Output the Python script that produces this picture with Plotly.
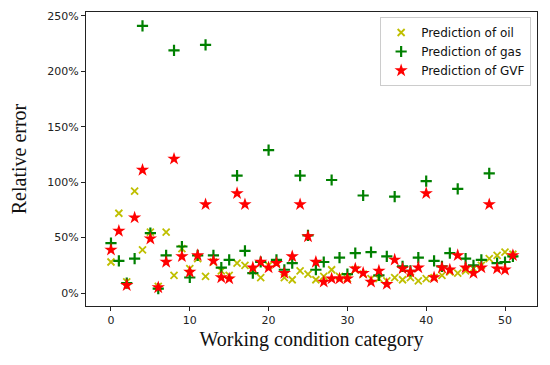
import plotly.graph_objects as go

x = list(range(52))

oil = [28, 72, 10, 92, 39, 55, 6, 55, 16, 40, 22, 31, 15, 28, 20, 16,
       27, 25, 20, 14, 25, 27, 14, 12, 20, 17, 12, 15, 21, 15, 13, 21,
       17, 13, 13, 11, 14, 12, 14, 11, 13, 14, 16, 19, 18, 20, 22, 25,
       31, 34, 37, 35]

gas = [45, 29, 9, 31, 241, 54, 4, 34, 219, 42, 14, 34, 224, 34, 23, 30,
       106, 38, 18, 28, 129, 30, 21, 27, 106, 52, 21, 28, 102, 32, 17, 36,
       88, 37, 16, 33, 87, 24, 20, 32, 101, 29, 24, 36, 94, 31, 25, 30,
       108, 27, 28, 33]

gvf = [39, 56, 7, 68, 111, 49, 5, 28, 121, 33, 19, 34, 80, 29, 14, 13,
       90, 80, 23, 28, 23, 27, 18, 33, 80, 51, 28, 10, 13, 13, 13, 22,
       18, 10, 20, 8, 30, 22, 19, 23, 90, 14, 23, 21, 34, 23, 18, 23,
       80, 22, 21, 34]

y_ticks = [0, 50, 100, 150, 200, 250]
y_tick_labels = ["0%", "50%", "100%", "150%", "200%", "250%"]
x_ticks = [0, 10, 20, 30, 40, 50]

fig = go.Figure()
fig.add_trace(go.Scatter(
    x=x, y=oil, mode="markers", name="Prediction of oil",
    marker=dict(symbol="x-thin-open", size=7, color="#bfbf00",
                line=dict(width=1.8, color="#bfbf00"))))
fig.add_trace(go.Scatter(
    x=x, y=gas, mode="markers", name="Prediction of gas",
    marker=dict(symbol="cross-thin-open", size=8, color="#008000",
                line=dict(width=2.2, color="#008000"))))
fig.add_trace(go.Scatter(
    x=x, y=gvf, mode="markers", name="Prediction of GVF",
    marker=dict(symbol="star", size=10, color="#ff0000",
                line=dict(width=0))))

axis_common = dict(showgrid=False, zeroline=False, showline=True,
                   linecolor="#222", linewidth=1, mirror=True,
                   ticks="outside", ticklen=4, tickcolor="#222",
                   automargin=False,
                   tickfont=dict(family="DejaVu Sans", size=11, color="#222"))

fig.update_xaxes(range=[-3.17, 54.06], tickvals=x_ticks,
                 title=dict(text="Working condition category",
                            font=dict(family="Liberation Serif", size=20, color="#111"),
                            standoff=5),
                 **axis_common)
fig.update_yaxes(range=[-11.7, 253.6], tickvals=y_ticks, ticktext=y_tick_labels,
                 title=dict(text="Relative error",
                            font=dict(family="Liberation Serif", size=20, color="#111"),
                            standoff=17),
                 **axis_common)

fig.update_layout(
    width=550, height=365,
    margin=dict(l=78, r=21, t=4, b=67),
    plot_bgcolor="white", paper_bgcolor="white",
    legend=dict(x=0.987, y=0.983, xanchor="right", yanchor="top",
                bgcolor="white", bordercolor="#cccccc", borderwidth=1,
                font=dict(family="DejaVu Sans", size=12, color="#111"),
                tracegroupgap=0),
    showlegend=True,
)

fig.write_html("out.html")
